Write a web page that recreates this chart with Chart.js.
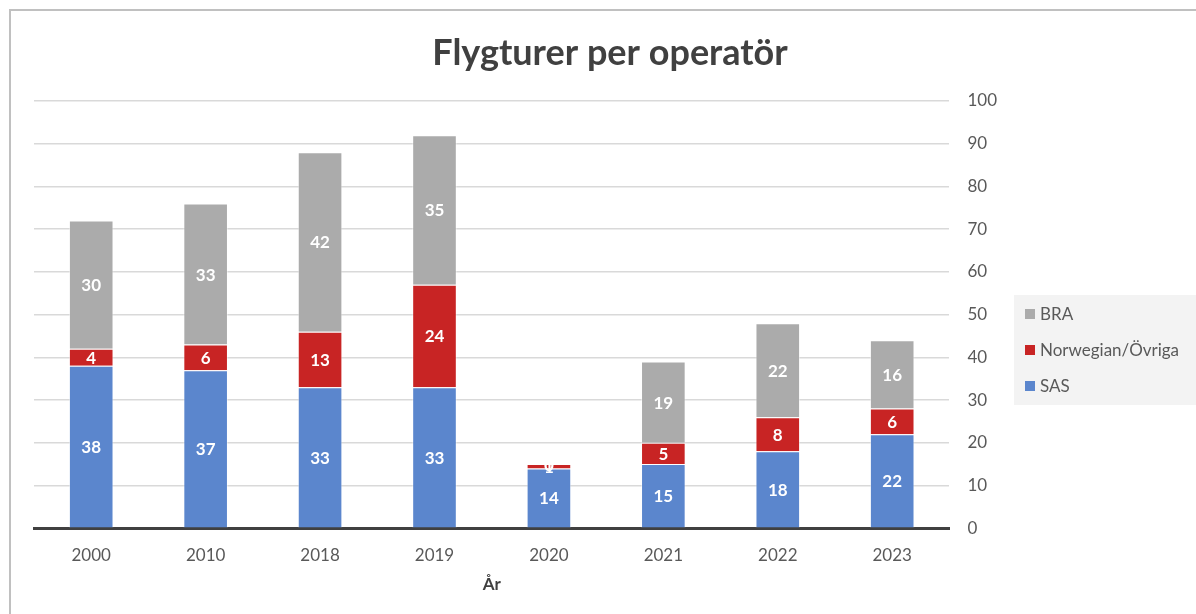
<!DOCTYPE html>
<html lang="sv">
<head>
  <meta charset="UTF-8" />
  <title>Flygturer per operatör</title>
  <script src="https://cdn.jsdelivr.net/npm/chart.js"></script>
  <style>
    html, body { margin: 0; padding: 0; background: #fff; }
    #wrap { position: relative; width: 1196px; height: 614px; }
  </style>
</head>
<body>
  <div id="wrap"><canvas id="grafik" width="1196" height="614"></canvas></div>
  <script>
    // Data
    const rubrik = "Flygturer per operatör";
    const ar = ["2000", "2010", "2018", "2019", "2020", "2021", "2022", "2023"];
    const sas = [38, 37, 33, 33, 14, 15, 18, 22];
    const norwegian = [4, 6, 13, 24, 1, 5, 8, 6];
    const bra = [30, 33, 42, 35, 0, 19, 22, 16];
    const yTicks = [0, 10, 20, 30, 40, 50, 60, 70, 80, 90, 100];

    const FONT = "Lato, 'Open Sans', sans-serif";

    // Ram runt diagrammet (bara vänster + topp syns) och rubrik
    const ram = {
      id: "ram",
      beforeDraw(chart) {
        const c = chart.ctx;
        c.save();
        c.fillStyle = "#fff";
        c.fillRect(0, 0, chart.width, chart.height);
        c.strokeStyle = "#c0c0c0";
        c.lineWidth = 2;
        c.beginPath();
        c.moveTo(10, chart.height + 5);
        c.lineTo(10, 10);
        c.lineTo(chart.width + 5, 10);
        c.stroke();
        c.fillStyle = "#404040";
        c.font = "bold 36px " + FONT;
        c.textAlign = "center";
        c.textBaseline = "middle";
        c.fillText(rubrik, 610, 53);
        c.restore();
      }
    };

    // Värden mitt i varje stapelsegment
    const etiketter = {
      id: "etiketter",
      afterDatasetsDraw(chart) {
        const c = chart.ctx;
        c.save();
        c.fillStyle = "#fff";
        c.font = "bold 17px " + FONT;
        c.textAlign = "center";
        c.textBaseline = "middle";
        chart.data.datasets.forEach((ds, i) => {
          chart.getDatasetMeta(i).data.forEach((el, j) => {
            const v = ds.data[j];
            c.fillText(String(v), el.x, (el.y + el.base) / 2 + 1);
          });
        });
        c.restore();
      }
    };

    // Egen förklaring med grå bakgrund
    const forklaring = {
      id: "forklaring",
      afterDraw(chart) {
        const c = chart.ctx;
        const x0 = 1014, y0 = 295;
        c.save();
        c.fillStyle = "#f3f3f3";
        c.fillRect(x0, y0, 190, 110);
        c.font = "17px " + FONT;
        c.textBaseline = "middle";
        const ordning = [2, 1, 0];
        ordning.forEach((idx, k) => {
          const ds = chart.data.datasets[idx];
          const y = y0 + 19 + k * 36;
          c.fillStyle = ds.backgroundColor;
          c.fillRect(x0 + 11, y - 5, 10, 10);
          c.fillStyle = "#595959";
          c.fillText(ds.label, x0 + 26, y + 1);
        });
        c.restore();
      }
    };

    new Chart(document.getElementById("grafik"), {
      type: "bar",
      data: {
        labels: ar,
        datasets: [
          { label: "SAS", data: sas, backgroundColor: "#5b86cd" },
          { label: "Norwegian/Övriga", data: norwegian, backgroundColor: "#c82424" },
          { label: "BRA", data: bra, backgroundColor: "#ababab" }
        ].map(d => Object.assign(d, {
          borderColor: "rgba(255,255,255,0.45)",
          borderWidth: 1,
          barPercentage: 0.39,
          categoryPercentage: 1
        }))
      },
      options: {
        responsive: false,
        animation: false,
        layout: { padding: { left: 34, right: 181, top: 101, bottom: 19 } },
        plugins: {
          legend: { display: false },
          tooltip: { enabled: false },
          title: { display: false }
        },
        scales: {
          x: {
            stacked: true,
            grid: { display: false },
            border: { color: "#404040", width: 3 },
            ticks: { color: "#595959", font: { family: FONT, size: 17 }, padding: 9 },
            title: {
              display: true,
              text: "År",
              color: "#404040",
              font: { family: FONT, size: 17, weight: "bold" },
              padding: { top: 0, bottom: 0 }
            }
          },
          y: {
            stacked: true,
            position: "right",
            min: 0,
            max: 100,
            afterBuildTicks(axis) { axis.ticks = yTicks.map(v => ({ value: v })); },
            grid: { color: "#d9d9d9", lineWidth: 1.5, drawTicks: false },
            border: { display: false },
            ticks: { color: "#595959", font: { family: FONT, size: 17 }, padding: 18 }
          }
        }
      },
      plugins: [ram, etiketter, forklaring]
    });
  </script>
</body>
</html>
